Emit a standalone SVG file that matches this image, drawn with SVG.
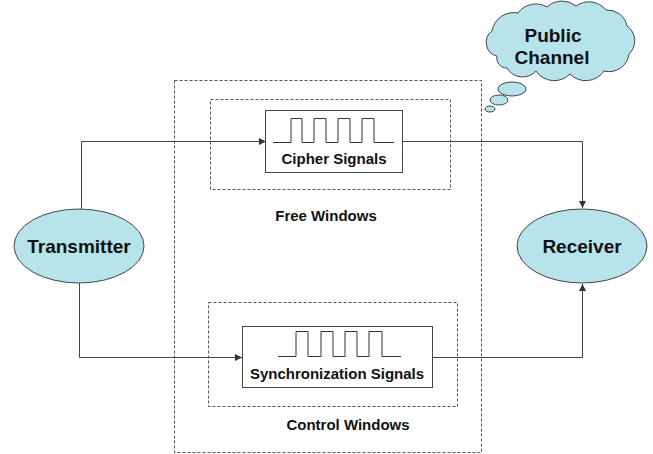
<svg xmlns="http://www.w3.org/2000/svg" width="653" height="454" viewBox="0 0 653 454">
  <style>
    .dash { fill: none; stroke: #555; stroke-width: 1; stroke-dasharray: 3 2; }
    .box { fill: #fff; stroke: #444; stroke-width: 1; }
    .wave { fill: none; stroke: #333; stroke-width: 1; }
    .blob { fill: #b7e3ea; stroke: #444; stroke-width: 1; }
    .wire { fill: none; stroke: #444; stroke-width: 1; }
    text { font-family: "Liberation Sans", Arial, sans-serif; font-weight: bold; fill: #111; text-anchor: middle; }
    .big { font-size: 19px; }
    .small { font-size: 15px; }
  </style>
  <defs>
    <marker id="arrow" viewBox="0 0 10 10" refX="10" refY="5" markerWidth="7" markerHeight="7" orient="auto" markerUnits="userSpaceOnUse">
      <path d="M0,0 L10,5 L0,10 z" fill="#333"/>
    </marker>
  </defs>
  <rect width="653" height="454" fill="#fff"/>

  <!-- window frames -->
  <g id="windows">
    <rect class="dash" x="174.5" y="80.5" width="307" height="372"/>
    <rect class="dash" x="210.5" y="99.5" width="240" height="90"/>
    <rect class="dash" x="208.5" y="302.5" width="249" height="104"/>
    <text class="small" x="326" y="221">Free Windows</text>
    <text class="small" x="348" y="430">Control Windows</text>
  </g>

  <!-- connectors -->
  <g id="connectors">
    <polyline class="wire" points="81.5,209 81.5,141.5 266,141.5" marker-end="url(#arrow)"/>
    <polyline class="wire" points="79.5,283 79.5,357.5 242,357.5" marker-end="url(#arrow)"/>
    <polyline class="wire" points="402,141.5 582.5,141.5 582.5,208" marker-end="url(#arrow)"/>
    <polyline class="wire" points="432,357.5 582.5,357.5 582.5,284" marker-end="url(#arrow)"/>
  </g>

  <g id="transmitter">
    <ellipse class="blob" cx="79" cy="246" rx="65" ry="37"/>
    <text class="big" x="79" y="253">Transmitter</text>
  </g>

  <g id="receiver">
    <ellipse class="blob" cx="582" cy="246" rx="65" ry="37"/>
    <text class="big" x="582" y="253">Receiver</text>
  </g>

  <g id="cipher">
    <rect class="box" x="265.5" y="110.5" width="137" height="62"/>
    <polyline class="wave" points="273,142.5 291,142.5 291,118.5 302,118.5 302,142.5 314,142.5 314,118.5 326,118.5 326,142.5 338,142.5 338,118.5 350,118.5 350,142.5 362,142.5 362,118.5 374,118.5 374,142.5 394,142.5"/>
    <text class="small" x="334" y="164">Cipher Signals</text>
  </g>

  <g id="sync">
    <rect class="box" x="242.5" y="326.5" width="190" height="61"/>
    <polyline class="wave" points="278,356.5 296,356.5 296,331.5 308,331.5 308,356.5 321,356.5 321,331.5 333,331.5 333,356.5 345,356.5 345,331.5 357,331.5 357,356.5 369,356.5 369,331.5 382,331.5 382,356.5 401,356.5"/>
    <text class="small" x="337" y="379">Synchronization Signals</text>
  </g>

  <g id="public-channel">
    <path class="blob" d="M497,56 A14,14 0 0 1 492,31 A22,22 0 0 1 518,13 A22,22 0 0 1 547,7 A22,22 0 0 1 576,6 A22,22 0 0 1 606,10 A20,20 0 0 1 627,26 A18,18 0 0 1 629,54 A20,20 0 0 1 604,71 A22,22 0 0 1 570,74 A22,22 0 0 1 536,71 A18,18 0 0 1 507,68 A10,10 0 0 1 497,56 Z"/>
    <ellipse class="blob" cx="512" cy="89" rx="14" ry="7"/>
    <ellipse class="blob" cx="499" cy="100" rx="9" ry="5"/>
    <ellipse class="blob" cx="490" cy="109" rx="5" ry="3"/>
    <text class="big" x="553" y="42">Public</text>
    <text class="big" x="552" y="64">Channel</text>
  </g>
</svg>
